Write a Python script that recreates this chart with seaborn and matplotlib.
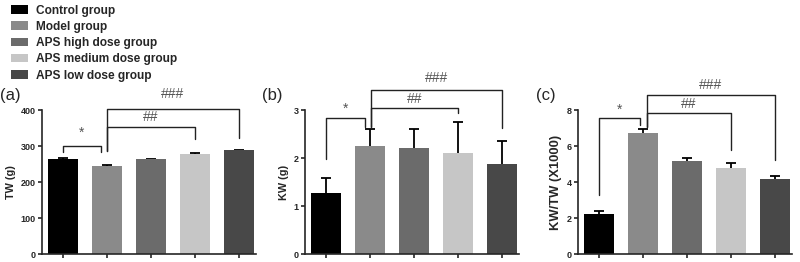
import pandas as pd
import matplotlib.pyplot as plt
import seaborn as sns
from matplotlib.patches import Patch

groups = ["Control group", "Model group", "APS high dose group",
          "APS medium dose group", "APS low dose group"]
colors = ["#000000", "#8a8a8a", "#6b6b6b", "#c6c6c6", "#484848"]

tw_mean = [263, 245, 263, 278, 288]
tw_err = [4, 3, 1, 3, 2]
kw_mean = [1.28, 2.26, 2.20, 2.11, 1.88]
kw_err = [0.31, 0.34, 0.41, 0.65, 0.48]
ratio_mean = [2.24, 6.71, 5.15, 4.80, 4.16]
ratio_err = [0.16, 0.24, 0.17, 0.23, 0.16]

# brackets: (x start, x end, y, left leg end, right leg end, text, text y)
tw_brackets = [(0, 0.86, 300, 283, 283, "*", 316),
               (1, 3, 354, 285, 319, "##", 362),
               (1, 4, 402, 285, 323, "###", 426)]
kw_brackets = [(0, 0.88, 2.83, 1.98, 2.65, "*", 2.87),
               (1.02, 3, 3.05, 2.65, 2.93, "##", 3.08),
               (1.02, 4, 3.42, 2.65, 2.62, "###", 3.52)]
ratio_brackets = [(0, 0.93, 7.54, 3.29, 7.17, "*", 7.62),
                  (1.09, 3, 7.85, 7.08, 5.78, "##", 7.95),
                  (1.09, 4, 8.83, 7.08, 5.23, "###", 8.98)]

sns.set_style("ticks")
plt.rcParams['font.family'] = ['Liberation Sans', 'DejaVu Sans']

fig = plt.figure(figsize=(8, 2.62), dpi=100)

panels = [
    ("(a)", "TW (g)", tw_mean, tw_err, tw_brackets, 400, [0, 100, 200, 300, 400], 0.0525, 7.8),
    ("(b)", "KW (g)", kw_mean, kw_err, kw_brackets, 3, [0, 1, 2, 3], 0.381, 7.8),
    ("(c)", "KW/TW (X1000)", ratio_mean, ratio_err, ratio_brackets, 8, [0, 2, 4, 6, 8], 0.7225, 9.4),
]

for letter, ylabel, means, errs, brackets, ytop, yticks, left, lsize in panels:
    ax = fig.add_axes([left, 0.0305, 0.268, 0.5495])
    df = pd.DataFrame({"group": groups, "value": means})
    sns.barplot(data=df, x="group", y="value", hue="group", palette=colors,
                order=groups, hue_order=groups, legend=False, errorbar=None,
                width=0.68, saturation=1, ax=ax, zorder=2, linewidth=0)
    ax.errorbar(range(len(groups)), means, yerr=errs, fmt="none", ecolor="black",
                elinewidth=1.3, capsize=3.5, capthick=1.3, zorder=1)
    for x1, x2, y, l1, l2, txt, ty in brackets:
        ax.plot([x1, x1, x2, x2], [l1, y, y, l2], color="#222222", lw=1.0,
                clip_on=False, zorder=3)
        ax.text((x1 + x2) / 2, ty, txt, ha="center", va="bottom", fontsize=10,
                color="#555555")
    ax.set_xlim(-0.48, 4.4)
    ax.set_ylim(0, ytop)
    ax.set_yticks(yticks)
    ax.set_xticks(range(len(groups)))
    ax.set_xticklabels([])
    ax.set_xlabel("")
    ax.set_ylabel(ylabel, fontsize=lsize, fontweight="bold", labelpad=3)
    for lab in ax.get_yticklabels():
        lab.set_fontweight("bold")
    ax.tick_params(axis="both", labelsize=6.5, width=1.2, length=3, pad=1.5)
    sns.despine(ax=ax)
    for s in ["left", "bottom"]:
        ax.spines[s].set_linewidth(1.2)
    ax.text(-0.15, 1.1, letter, transform=ax.transAxes, fontsize=12,
            ha="center", va="center")

handles = [Patch(facecolor=c, edgecolor="none") for c in colors]
fig.legend(handles, groups, loc="upper left", bbox_to_anchor=(0.005, 1.01),
           frameon=False, prop={"weight": "bold", "size": 8.6},
           handlelength=1.45, handleheight=0.7, labelspacing=0.36,
           handletextpad=0.6, borderaxespad=0.2)

fig.savefig("out.png", dpi=100)
